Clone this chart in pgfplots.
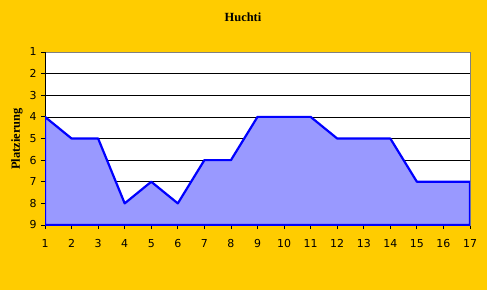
\documentclass[border=0pt]{standalone}
\usepackage{pgfplots}
\pgfplotsset{compat=1.18}
\usepackage{fontspec}
\setmainfont{Liberation Serif}
\newfontfamily\tickfont{DejaVu Sans}
\definecolor{bgyellow}{HTML}{FFCC00}
\definecolor{areafill}{HTML}{9999FF}
\definecolor{lineblue}{HTML}{0000FF}
\begin{document}
\begin{tikzpicture}[x=1bp,y=1bp]
\fill[bgyellow] (0,0) rectangle (487,290);
\useasboundingbox (0,0) rectangle (487,290);
\node[font=\bfseries\fontsize{12.5}{14}\selectfont] at (243,273) {Huchti};
\node[font=\bfseries\fontsize{12.5}{14}\selectfont, rotate=90] at (17,151) {Platzierung};
\begin{axis}[
  at={(45bp,65bp)}, anchor=south west,
  scale only axis, width=425bp, height=173bp,
  xmin=1, xmax=17, ymin=1, ymax=9, y dir=reverse,
  xtick={1,...,17}, ytick={1,...,9},
  ymajorgrids, grid style={black, line width=0.7bp},
  axis background/.style={fill=white},
  axis line style={gray, line width=0.8bp},
  tick align=outside, tick pos=left,
  major tick length=4bp,
  tick style={black, line width=0.8bp},
  /pgf/number format/assume math mode=true,
  ticklabel style={font=\tickfont\fontsize{11}{13}\selectfont},
  xticklabel style={yshift=-7bp},
  yticklabel style={xshift=-1bp},
]
\draw[black, line width=0.8bp] (axis cs:1,1) -- (axis cs:1,9);
\addplot[draw=lineblue, line width=2.2bp, fill=areafill, line join=round] coordinates {
(1,9) (1,4) (2,5) (3,5) (4,8) (5,7) (6,8) (7,6) (8,6) (9,4) (10,4) (11,4) (12,5) (13,5) (14,5) (15,7) (16,7) (17,7) (17,9)
} -- cycle;
\end{axis}
\end{tikzpicture}
\end{document}
